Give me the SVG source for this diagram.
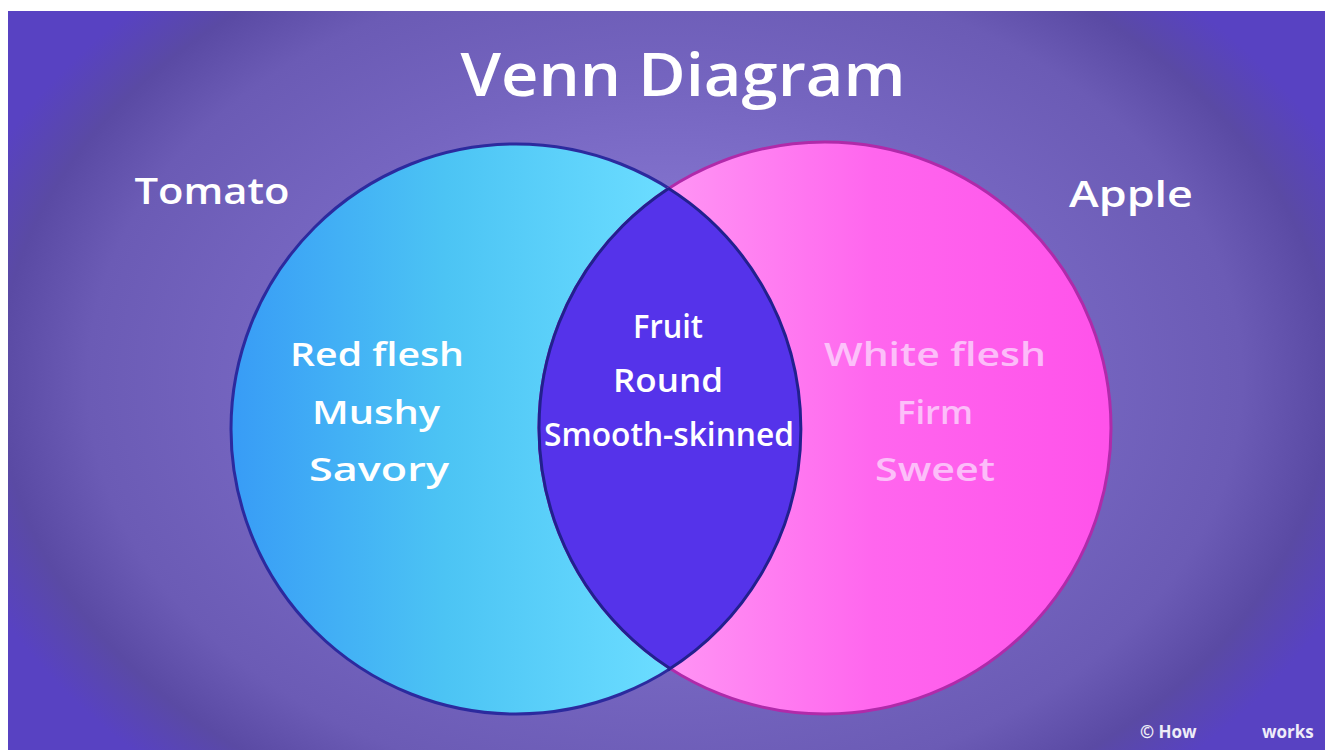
<svg xmlns="http://www.w3.org/2000/svg" width="1325" height="750" viewBox="0 0 1325 750">
  <defs>
    <radialGradient id="bg" gradientUnits="userSpaceOnUse" cx="665" cy="380" r="740" gradientTransform="translate(665 380) scale(1 0.72) translate(-665 -380)">
      <stop offset="0" stop-color="#9485da"/>
      <stop offset="0.3" stop-color="#8474cf"/>
      <stop offset="0.55" stop-color="#7565c0"/>
      <stop offset="0.78" stop-color="#6b5bb5"/>
      <stop offset="0.9" stop-color="#5a4aa4"/>
      <stop offset="1" stop-color="#5842c2"/>
    </radialGradient>
    <linearGradient id="tomatoFill" gradientUnits="userSpaceOnUse" x1="232" y1="0" x2="660" y2="0">
      <stop offset="0" stop-color="#389cf6"/>
      <stop offset="0.5" stop-color="#4cc4f4"/>
      <stop offset="1" stop-color="#6adcff"/>
    </linearGradient>
    <linearGradient id="appleFill" gradientUnits="userSpaceOnUse" x1="680" y1="0" x2="1110" y2="0">
      <stop offset="0" stop-color="#ff92f4"/>
      <stop offset="0.45" stop-color="#ff66ee"/>
      <stop offset="1" stop-color="#ff52ea"/>
    </linearGradient>
    <clipPath id="tomatoClip">
      <circle cx="516" cy="429" r="285"/>
    </clipPath>
    <style>
      .lbl { font-family: "Open Sans", "Liberation Sans", sans-serif; font-weight: 600; fill: #ffffff; text-anchor: middle; }
      .item { font-size: 33px; }
      .faint { fill: #fbe6ff; opacity: 0.7; }
    </style>
  </defs>

  <rect x="0" y="0" width="1325" height="750" fill="#ffffff"/>
  <rect x="8" y="11" width="1317" height="739" fill="url(#bg)"/>

  <g id="title">
    <text class="lbl" x="683" y="96" font-size="60" textLength="445" lengthAdjust="spacingAndGlyphs">Venn Diagram</text>
  </g>

  <g id="tomato">
    <circle cx="516" cy="429" r="285" fill="url(#tomatoFill)" stroke="#2c2a9e" stroke-width="3"/>
  </g>

  <g id="apple">
    <circle cx="825" cy="428" r="286" fill="url(#appleFill)" stroke="#b02aaa" stroke-width="3"/>
  </g>

  <g id="overlap">
    <circle cx="825" cy="428" r="286" fill="#5533ea" clip-path="url(#tomatoClip)"/>
    <circle cx="825" cy="428" r="286" fill="none" stroke="#22208e" stroke-width="3" clip-path="url(#tomatoClip)"/>
    <path d="M 668 188 A 285 285 0 0 1 668 670" fill="none" stroke="#22208e" stroke-width="3"/>
  </g>

  <g id="connectors"></g>

  <g id="tomato-label">
    <text class="lbl" x="212" y="204" font-size="36" textLength="155" lengthAdjust="spacingAndGlyphs">Tomato</text>
  </g>
  <g id="apple-label">
    <text class="lbl" x="1131" y="207" font-size="36" textLength="124" lengthAdjust="spacingAndGlyphs">Apple</text>
  </g>

  <g id="tomato-items">
    <text class="lbl item" x="377" y="366" textLength="174" lengthAdjust="spacingAndGlyphs">Red flesh</text>
    <text class="lbl item" x="376" y="424" textLength="128" lengthAdjust="spacingAndGlyphs">Mushy</text>
    <text class="lbl item" x="379" y="481" textLength="140" lengthAdjust="spacingAndGlyphs">Savory</text>
  </g>

  <g id="overlap-items">
    <text class="lbl item" x="668" y="338" textLength="70" lengthAdjust="spacingAndGlyphs">Fruit</text>
    <text class="lbl item" x="668" y="392" textLength="110" lengthAdjust="spacingAndGlyphs">Round</text>
    <text class="lbl item" x="669" y="446" textLength="250" lengthAdjust="spacingAndGlyphs">Smooth-skinned</text>
  </g>

  <g id="apple-items">
    <text class="lbl item faint" x="935" y="366" textLength="222" lengthAdjust="spacingAndGlyphs">White flesh</text>
    <text class="lbl item faint" x="935" y="424" textLength="76" lengthAdjust="spacingAndGlyphs">Firm</text>
    <text class="lbl item faint" x="935" y="481" textLength="120" lengthAdjust="spacingAndGlyphs">Sweet</text>
  </g>

  <g id="credit">
    <text x="1140" y="738" font-family="Open Sans, Liberation Sans, sans-serif" font-weight="700" font-size="17" fill="#ffffff" opacity="0.9">© How</text>
    <text x="1262" y="738" font-family="Open Sans, Liberation Sans, sans-serif" font-weight="700" font-size="17" fill="#ffffff" opacity="0.9">works</text>
  </g>
</svg>
